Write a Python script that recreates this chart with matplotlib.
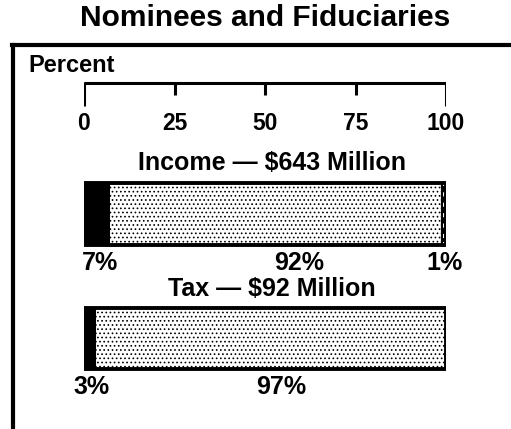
import matplotlib.pyplot as plt
from matplotlib.lines import Line2D

plt.rcParams['font.family'] = ['Liberation Sans', 'DejaVu Sans']
plt.rcParams['font.weight'] = 'bold'
plt.rcParams['hatch.color'] = 'black'
plt.rcParams['hatch.linewidth'] = 0.7

# data
title = "Nominees and Fiduciaries"
scale_ticks = [0, 25, 50, 75, 100]
income_title = "Income \u2014 $643 Million"
income_shares = [7, 92, 1]
income_labels = ["7%", "92%", "1%"]
tax_title = "Tax \u2014 $92 Million"
tax_shares = [3, 97]
tax_labels = ["3%", "97%"]

W, H = 511, 429
fig = plt.figure(figsize=(W / 100, H / 100), dpi=100)
fig.patch.set_facecolor('white')

# frame: left and top edges
fig.add_artist(Line2D([13 / W, 13 / W], [0, 1 - 45 / H], color='black', lw=3))
fig.add_artist(Line2D([12 / W, 1], [1 - 45 / H, 1 - 45 / H], color='black', lw=3))

fig.text(265 / W, 1 - 18 / H, title, ha='center', va='center', fontsize=21.5, fontweight='bold')
fig.text(28 / W, 1 - 66 / H, "Percent", ha='left', va='center', fontsize=17, fontweight='bold')

# axes: x in percent, y in pixel rows (inverted)
ax = fig.add_axes([84 / W, 0, 362 / W, 1])
ax.set_xlim(0, 100)
ax.set_ylim(H, 0)
ax.axis('off')

# percent scale bracket
ax.plot([scale_ticks[0], scale_ticks[-1]], [83, 83], color='black', lw=2.2, solid_capstyle='butt')
for t in scale_ticks:
    bottom = 106 if t in (scale_ticks[0], scale_ticks[-1]) else 95
    ax.plot([t, t], [82, bottom], color='black', lw=2.2, solid_capstyle='butt')
    ax.text(t, 123, str(t), ha='center', va='center', fontsize=16.5, fontweight='bold')


def draw_bar(shares, labels, label_x, y_top, y_bot, y_title, y_label, name):
    height = y_bot - y_top
    centre = (y_top + y_bot) / 2
    left = 0
    styles = [dict(color='black'), dict(color='white', hatch='....'), dict(color='white')]
    for i, s in enumerate(shares):
        st = styles[i]
        ax.barh(centre, s, left=left, height=height, color=st['color'],
                hatch=st.get('hatch'), edgecolor='black', linewidth=1.5)
        left += s
    ax.barh(centre, sum(shares), height=height, fill=False, edgecolor='black', linewidth=2.8)
    if len(shares) > 2:
        mid = sum(shares[:2]) + shares[2] / 2
        ax.plot([mid, mid], [y_top + 3, y_bot - 3], color='black', lw=1.5, ls=(0, (3, 2)))
    ax.text(52, y_title, name, ha='center', va='center', fontsize=18, fontweight='bold')
    for lx, lab in zip(label_x, labels):
        ax.text(lx, y_label, lab, ha='center', va='center', fontsize=18, fontweight='bold')


draw_bar(income_shares, income_labels, [4.5, 59.5, 99.5], 183, 245, 163, 263, income_title)
draw_bar(tax_shares, tax_labels, [2, 54.5], 308, 369, 289, 387, tax_title)

fig.savefig("out.png", dpi=100, facecolor='white')
